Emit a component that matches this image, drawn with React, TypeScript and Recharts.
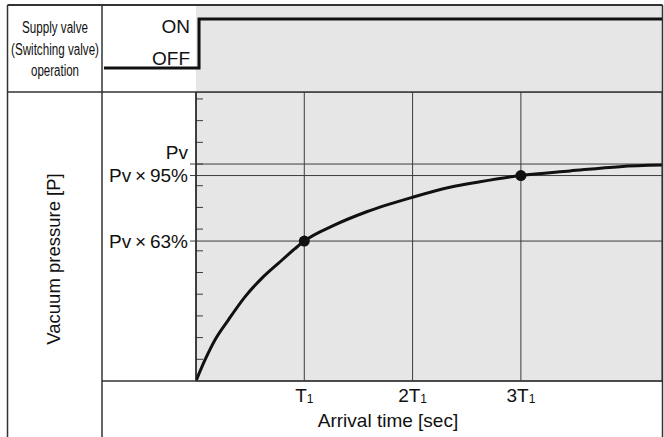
import React from 'react';
import {
  LineChart,
  Line,
  XAxis,
  YAxis,
  CartesianGrid,
  ReferenceArea,
  ReferenceDot,
  Label,
} from 'recharts';

// ---- data ----
const valveTime = [-0.85, 0.028, 4.303];
const valveState = [0, 1, 1];
const valveLabels = ['ON', 'OFF'];

const curveTime = [0, 0.083, 0.175, 0.298, 0.452, 0.607, 0.76, 0.914, 1, 1.267, 1.576, 2, 2.345, 2.622, 3, 3.453, 3.915, 4.303];
const curvePressure = [0, 0.097, 0.189, 0.281, 0.388, 0.473, 0.542, 0.61, 0.645, 0.716, 0.78, 0.847, 0.893, 0.918, 0.947, 0.968, 0.988, 0.995];

const markerTime = [1, 3];
const markerPressure = [0.645, 0.947];

const yTickValues = [0.645, 0.947, 1];
const yTickLabels = ['Pv\u2009×\u200963%', 'Pv\u2009×\u200995%', 'Pv'];
const minorTickValues = [0.1, 0.2, 0.3, 0.4, 0.5, 0.6, 0.7, 0.8, 0.9, 1.0, 1.1, 1.2, 1.3];

const xTickValues = [1, 2, 3];
const xTickPrefix = ['', '2', '3'];
const xTickMain = 'T';
const xTickSub = '1';

const xTitle = 'Arrival time [sec]';
const yTitle = 'Vacuum pressure [P]';
const valveTitle = ['Supply valve', '(Switching valve)', 'operation'];

const X_DOMAIN_TOP: [number, number] = [-0.868, 4.303];
const X_DOMAIN: [number, number] = [0, 4.303];
const Y_DOMAIN_TOP: [number, number] = [-0.49, 1.286];
const Y_DOMAIN: [number, number] = [0, 1.332];

const valveData = valveTime.map((t, i) => ({ t, v: valveState[i] }));
const curveData = curveTime.map((t, i) => ({ t, p: curvePressure[i] }));

const FONT = '"Liberation Sans", Arial, Helvetica, sans-serif';
const INK = '#111';
const GRID = '#3c3c3c';
const BG = '#e6e6e6';

const YTick = (props: any) => {
  const { x, y, payload } = props;
  const i = yTickValues.indexOf(payload.value);
  const lift = payload.value === 1 ? -11.5 : 0;
  return (
    <text x={x} y={y + lift} dy="0.355em" textAnchor="end" fontSize={19} fill={INK} fontFamily={FONT}>
      {yTickLabels[i]}
    </text>
  );
};

const NoTick = () => <g />;

const XTick = (props: any) => {
  const { x, y, payload } = props;
  const i = xTickValues.indexOf(payload.value);
  return (
    <text x={x} y={y} dy="0.71em" textAnchor="middle" fontSize={19} fill={INK} fontFamily={FONT}>
      {xTickPrefix[i]}
      {xTickMain}
      <tspan fontSize={12} dy={1}>
        {xTickSub}
      </tspan>
    </text>
  );
};

export default function App() {
  return (
    <div
      style={{
        position: 'absolute',
        left: 0,
        top: 0,
        width: 664,
        height: 437,
        background: '#fff',
        fontFamily: FONT,
        overflow: 'hidden',
      }}
    >
      {/* valve operation chart */}
      <div style={{ position: 'absolute', left: 102, top: 5 }}>
        <LineChart width={560} height={87} data={valveData} margin={{ top: 0, right: 0, bottom: 0, left: 0 }}>
          <XAxis type="number" dataKey="t" domain={X_DOMAIN_TOP} allowDataOverflow hide />
          <YAxis type="number" domain={Y_DOMAIN_TOP} allowDataOverflow hide />
          <ReferenceArea x1={0} x2={X_DOMAIN_TOP[1]} y1={Y_DOMAIN_TOP[0]} y2={Y_DOMAIN_TOP[1]} fill={BG} fillOpacity={1} stroke="none" />
          <ReferenceArea x1={X_DOMAIN_TOP[0]} x2={-0.055} y1={0.061} y2={1} fill="none" stroke="none">
            <Label value={valveLabels[0]} position="insideTopRight" offset={0} fontSize={19} fill={INK} fontFamily={FONT} />
            <Label value={valveLabels[1]} position="insideBottomRight" offset={0} fontSize={19} fill={INK} fontFamily={FONT} />
          </ReferenceArea>
          <Line
            type="stepAfter"
            dataKey="v"
            stroke={INK}
            strokeWidth={3}
            dot={false}
            isAnimationActive={false}
          />
        </LineChart>
      </div>

      {/* vacuum pressure chart */}
      <div style={{ position: 'absolute', left: 0, top: 92 }}>
        <LineChart width={664} height={345} data={curveData} margin={{ top: 0, right: 2, bottom: 0, left: 0 }}>
          <CartesianGrid yAxisId="main" fill={BG} fillOpacity={1} stroke={GRID} strokeWidth={1} />
          <XAxis
            type="number"
            dataKey="t"
            domain={X_DOMAIN}
            allowDataOverflow
            ticks={xTickValues}
            interval={0}
            height={56}
            axisLine={false}
            tickLine={false}
            tick={<XTick />}
          >
            <Label value={xTitle} position="insideBottom" offset={10} dx={-41} fontSize={19} fill={INK} fontFamily={FONT} />
          </XAxis>
          <YAxis
            yAxisId="minor"
            type="number"
            domain={Y_DOMAIN}
            allowDataOverflow
            mirror
            width={1}
            ticks={minorTickValues}
            interval={0}
            tick={<NoTick />}
            tickSize={7}
            axisLine={false}
            tickLine={{ stroke: GRID, strokeWidth: 1 }}
          />
          <YAxis
            yAxisId="main"
            type="number"
            domain={Y_DOMAIN}
            allowDataOverflow
            width={196}
            ticks={yTickValues}
            interval={0}
            tick={<YTick />}
            tickSize={6}
            tickMargin={2}
            axisLine={{ stroke: '#222', strokeWidth: 1.5 }}
            tickLine={{ stroke: GRID, strokeWidth: 1 }}
          />
          <Line
            yAxisId="main"
            type="monotone"
            dataKey="p"
            stroke={INK}
            strokeWidth={3}
            dot={false}
            isAnimationActive={false}
          />
          {markerTime.map((t, i) => (
            <ReferenceDot key={i} yAxisId="main" x={t} y={markerPressure[i]} r={5.5} fill={INK} stroke="none" />
          ))}
        </LineChart>
      </div>

      {/* frame and row titles */}
      <svg
        width={664}
        height={437}
        style={{ position: 'absolute', left: 0, top: 0, pointerEvents: 'none' }}
      >
        <g stroke="#333" strokeWidth={1.5} fill="none">
          <path d="M7.5 5 H662.5" strokeWidth={2} />
          <path d="M7.5 5 V437" />
          <path d="M102 5 V437" />
          <path d="M662.5 5 V437" />
          <path d="M7.5 92 H662.5" />
          <path d="M102 381 H662.5" />
        </g>
        <g fill={INK} fontFamily={FONT} fontSize={16} textAnchor="middle">
          <text x={55} y={33} textLength={66} lengthAdjust="spacingAndGlyphs">{valveTitle[0]}</text>
          <text x={55} y={54.5} textLength={88} lengthAdjust="spacingAndGlyphs">{valveTitle[1]}</text>
          <text x={55} y={75.5} textLength={48} lengthAdjust="spacingAndGlyphs">{valveTitle[2]}</text>
        </g>
        <text
          transform="translate(60.3,259) rotate(-90)"
          textAnchor="middle"
          fontSize={18.5}
          fill={INK}
          fontFamily={FONT}
        >
          {yTitle}
        </text>
      </svg>
    </div>
  );
}
